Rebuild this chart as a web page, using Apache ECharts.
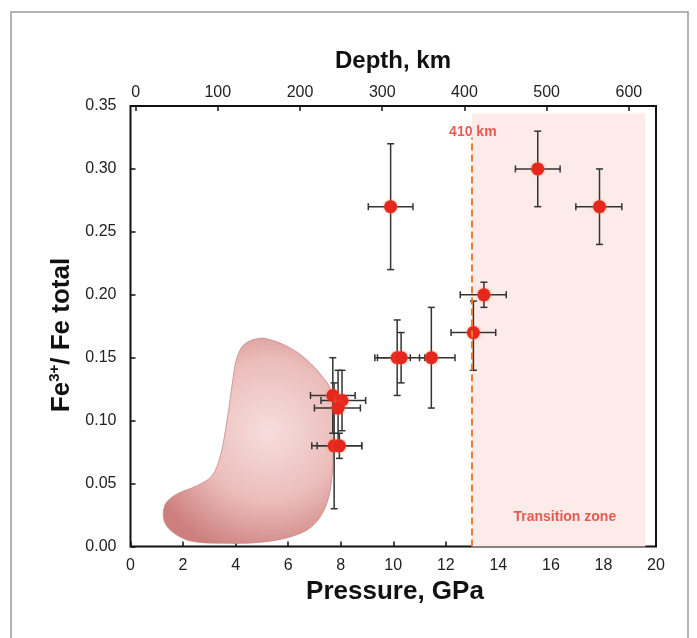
<!DOCTYPE html>
<html>
<head>
<meta charset="utf-8">
<script src="https://cdn.jsdelivr.net/npm/echarts@6/dist/echarts.min.js"></script>
<style>
html,body{margin:0;padding:0;background:#fff;}
#chart{width:697px;height:638px;}
</style>
</head>
<body>
<div id="chart"></div>
<script>
// ---- data ----
const pressure    = [7.7, 8.05, 7.9, 7.75, 7.95, 10.15, 10.3, 11.45, 9.9, 13.05, 13.45, 15.5, 17.85];
const pressureLow = [6.85, 7.25, 7.0, 6.9, 7.1, 9.3, 9.4, 11.0, 9.05, 12.2, 12.55, 14.65, 16.95];
const pressureHigh= [8.55, 8.95, 8.75, 8.8, 8.8, 10.65, 11.2, 12.35, 10.75, 13.9, 14.3, 16.35, 18.7];
const feRatio     = [0.12, 0.116, 0.11, 0.08, 0.08, 0.15, 0.15, 0.15, 0.27, 0.17, 0.20, 0.30, 0.27];
const feLow       = [0.09, 0.092, 0.08, 0.03, 0.07, 0.12, 0.13, 0.11, 0.22, 0.14, 0.19, 0.27, 0.24];
const feHigh      = [0.15, 0.14, 0.14, 0.13, 0.09, 0.18, 0.17, 0.19, 0.32, 0.195, 0.21, 0.33, 0.30];

const blobPressure = [4.94, 5.36, 5.87, 6.37, 6.88, 7.30, 7.59, 7.72, 7.72, 7.64, 7.39, 6.88, 6.04, 4.86, 3.51, 2.33, 1.65, 1.28, 1.32, 1.74, 2.50, 3.09, 3.42, 3.68, 3.88, 4.05, 4.35];
const blobFe       = [0.1655, 0.164, 0.160, 0.154, 0.145, 0.135, 0.126, 0.111, 0.079, 0.050, 0.030, 0.0155, 0.0074, 0.0032, 0.0026, 0.0042, 0.0107, 0.0204, 0.0333, 0.0414, 0.048, 0.056, 0.072, 0.101, 0.130, 0.150, 0.161];

const pressureTicks = [0, 2, 4, 6, 8, 10, 12, 14, 16, 18, 20];
const feTicks = [0, 0.05, 0.10, 0.15, 0.20, 0.25, 0.30, 0.35];
const depthTicks = [0, 100, 200, 300, 400, 500, 600];
const depthMin = -6.2, depthMax = 633;

const boundaryPressure = 13;      // 410 km discontinuity
const transitionEnd = 19.6;
const transitionTop = 0.344;
const boundaryLineTop = 0.325;

const labels = [
  {name: '410 km', p: 13.03, fe: 0.329},
  {name: 'Transition zone', p: 16.53, fe: 0.023}
];

// ---- chart ----
const FONT = '"Liberation Sans", Arial, Helvetica, sans-serif';
const chart = echarts.init(document.getElementById('chart'), null, {renderer: 'canvas'});

const pointData = pressure.map((p, i) => [p, feRatio[i], pressureLow[i], pressureHigh[i], feLow[i], feHigh[i]]);
const blobData = blobPressure.map((p, i) => [p, blobFe[i]]);

const option = {
  animation: false,
  backgroundColor: '#fff',
  grid: {left: 130.5, right: 41, top: 106, bottom: 91.5, show: true, borderColor: '#111', borderWidth: 2, backgroundColor: 'transparent'},
  xAxis: [
    {
      type: 'value', min: pressureTicks[0], max: pressureTicks[pressureTicks.length - 1], interval: 2,
      axisLine: {show: false}, splitLine: {show: false},
      axisTick: {show: true, inside: true, length: 5, lineStyle: {color: '#111', width: 1.5}},
      axisLabel: {color: '#222', fontSize: 16, fontFamily: FONT, margin: 11}
    },
    {
      type: 'value', position: 'top', min: depthMin, max: depthMax,
      axisLine: {show: false}, splitLine: {show: false},
      axisTick: {show: true, inside: true, length: 5, customValues: depthTicks, lineStyle: {color: '#111', width: 1.5}},
      axisLabel: {color: '#222', fontSize: 16, fontFamily: FONT, margin: 5, customValues: depthTicks}
    }
  ],
  yAxis: {
    type: 'value', min: feTicks[0], max: feTicks[feTicks.length - 1], interval: 0.05,
    axisLine: {show: false}, splitLine: {show: false},
    axisTick: {show: true, inside: true, length: 5, lineStyle: {color: '#111', width: 1.5}},
    axisLabel: {color: '#222', fontSize: 16, fontFamily: FONT, margin: 14, formatter: v => v.toFixed(2)}
  },
  graphic: [
    {type: 'rect', shape: {x: 11, y: 12, width: 677, height: 640}, style: {fill: 'none', stroke: '#9a9a9a', lineWidth: 1.5}, z: -10},
    {type: 'text', x: 393, y: 61, style: {text: 'Depth, km', font: 'bold 24px ' + FONT, fill: '#111', align: 'center', verticalAlign: 'middle'}},
    {type: 'text', x: 395, y: 592, style: {text: 'Pressure, GPa', font: 'bold 26px ' + FONT, fill: '#111', align: 'center', verticalAlign: 'middle'}},
    {type: 'text', x: 62, y: 335, rotation: Math.PI / 2,
      style: {
        text: '{b|Fe}{s|3+}{b|/ Fe total}', align: 'center', verticalAlign: 'middle', fill: '#111',
        rich: {
          b: {font: 'bold 26px ' + FONT, fill: '#111', lineHeight: 30},
          s: {font: 'bold 15px ' + FONT, fill: '#111', lineHeight: 16, verticalAlign: 'top'}
        }
      }}
  ],
  series: [
    {
      // transition zone shading and 410 km boundary
      type: 'line', data: [], z: 1,
      markArea: {
        silent: true,
        itemStyle: {color: '#fcebe8'},
        data: [[{coord: [boundaryPressure, 0]}, {coord: [transitionEnd, transitionTop]}]]
      },
      markLine: {
        silent: true, symbol: ['none', 'none'], label: {show: false},
        lineStyle: {color: '#f07a2a', width: 2, type: [7, 4]},
        data: [[{coord: [boundaryPressure, 0]}, {coord: [boundaryPressure, boundaryLineTop]}]]
      }
    },
    {
      // pink field
      type: 'custom', z: 2, data: [0],
      renderItem: function (params, api) {
        const pts = blobData.map(d => api.coord(d));
        return {
          type: 'polygon',
          shape: {points: pts, smooth: 0.35},
          style: {
            fill: new echarts.graphic.RadialGradient(0.62, 0.45, 0.75, [
              {offset: 0, color: '#f6dedc'},
              {offset: 0.55, color: '#ebbdbb'},
              {offset: 1, color: '#cc7f7d'}
            ]),
            stroke: '#c98886', lineWidth: 0.8
          }
        };
      }
    },
    {
      // error bars
      type: 'custom', z: 3, data: pointData,
      renderItem: function (params, api) {
        const c = api.coord([api.value(0), api.value(1)]);
        const l = api.coord([api.value(2), api.value(1)]);
        const r = api.coord([api.value(3), api.value(1)]);
        const lo = api.coord([api.value(0), api.value(4)]);
        const hi = api.coord([api.value(0), api.value(5)]);
        const cap = 3.5;
        const st = {stroke: '#333', lineWidth: 1.5};
        return {
          type: 'group',
          children: [
            {type: 'line', shape: {x1: l[0], y1: c[1], x2: r[0], y2: c[1]}, style: st},
            {type: 'line', shape: {x1: l[0], y1: c[1] - cap, x2: l[0], y2: c[1] + cap}, style: st},
            {type: 'line', shape: {x1: r[0], y1: c[1] - cap, x2: r[0], y2: c[1] + cap}, style: st},
            {type: 'line', shape: {x1: c[0], y1: lo[1], x2: c[0], y2: hi[1]}, style: st},
            {type: 'line', shape: {x1: c[0] - cap, y1: lo[1], x2: c[0] + cap, y2: lo[1]}, style: st},
            {type: 'line', shape: {x1: c[0] - cap, y1: hi[1], x2: c[0] + cap, y2: hi[1]}, style: st}
          ]
        };
      }
    },
    {
      type: 'scatter', z: 4, symbol: 'circle', symbolSize: 13,
      itemStyle: {color: '#e5271d', shadowBlur: 3, shadowColor: 'rgba(245,110,60,0.7)', opacity: 1},
      data: pointData.map(d => [d[0], d[1]])
    },
    {
      type: 'scatter', z: 5, symbolSize: 0, silent: true,
      data: labels.map(o => ({value: [o.p, o.fe], name: o.name})),
      label: {show: true, position: 'inside', formatter: '{b}', color: '#e0352a', fontFamily: FONT, fontWeight: 'bold', fontSize: 14}
    }
  ]
};
chart.setOption(option);
</script>
</body>
</html>
